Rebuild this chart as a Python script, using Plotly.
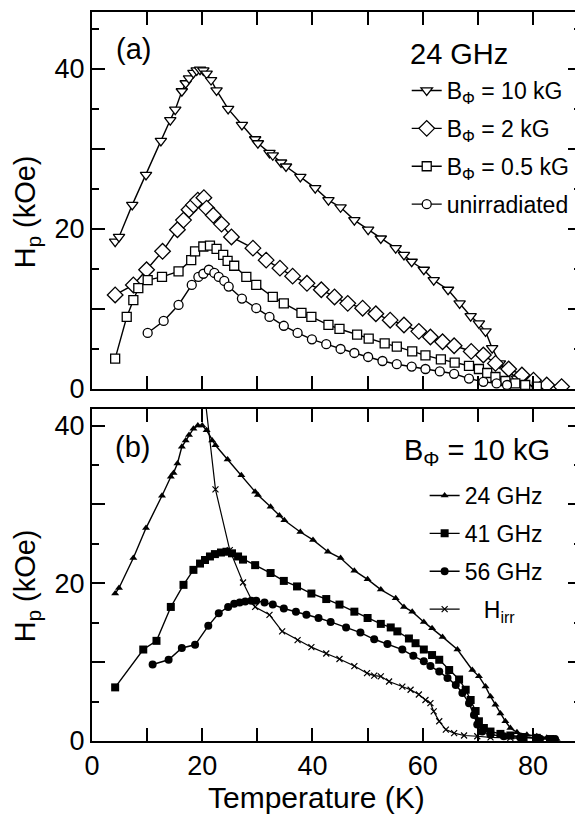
import plotly.graph_objects as go

# ---------------- data: panel (a), 24 GHz ----------------
t_10kG = [4.2, 4.9, 7.3, 9.8, 12.5, 14.2, 15.1, 16.3, 17.0, 17.6, 18.4, 19.0, 19.6, 20.2, 20.8, 21.6, 22.6,
          24.7, 27.2, 29.6, 30.1, 32.2, 32.8, 34.3, 35.2, 37.8, 40.5, 42.9, 45.1, 47.6, 50.1, 52.4, 55.1,
          56.6, 58.0, 60.2, 62.0, 64.6, 66.7, 68.7, 70.2, 71.4, 72.6, 74.0, 75.6, 77.1, 78.6, 80.4, 82.2]
h_10kG = [18.4, 19.0, 23.0, 26.75, 31.0, 33.6, 34.9, 37.2, 38.2, 38.8, 39.5, 39.8, 39.9, 39.8, 39.4, 38.6, 37.3,
          35.0, 33.0, 31.2, 30.7, 29.5, 29.2, 28.3, 27.8, 26.5, 25.1, 23.6, 22.7, 21.1, 19.9, 18.8, 17.6,
          16.75, 15.9, 14.9, 13.6, 12.4, 10.7, 9.1, 8.2, 7.2, 5.1, 3.2, 2.2, 1.3, 0.9, 0.5, 0.4]

t_2kG = [4.2, 7.5, 9.9, 12.8, 15.5, 16.6, 17.6, 18.4, 19.2, 20.3, 20.8, 22.0, 23.5, 25.3, 29.2, 31.6, 34.1,
         36.4, 39.0, 41.6, 44.0, 46.4, 49.1, 51.5, 54.1, 56.6, 59.3, 61.4, 63.6, 65.7, 68.8, 71.0, 73.2,
         75.6, 78.0, 80.1, 82.5, 85.2]
h_2kG = [11.75, 13.0, 14.9, 17.2, 19.9, 21.1, 22.4, 23.0, 23.6, 23.9, 22.6, 21.7, 20.6, 19.0, 17.6, 16.1, 15.1,
         14.1, 13.2, 12.4, 11.5, 10.7, 10.1, 9.4, 8.6, 8.0, 7.2, 6.5, 5.9, 5.4, 4.7, 4.25, 3.2,
         2.5, 1.75, 1.1, 0.5, 0.3]

t_05kG = [4.2, 6.3, 7.5, 8.4, 10.1, 12.7, 15.7, 18.0, 18.7, 20.2, 21.4, 22.6, 23.8, 24.6, 25.8, 28.0, 29.8,
          32.8, 34.8, 38.0, 39.8, 42.9, 44.9, 48.1, 50.2, 53.1, 55.3, 58.1, 60.5, 63.3, 65.8, 68.4, 70.2,
          71.7, 73.2, 75.0, 76.8, 78.6, 80.7]
h_05kG = [3.8, 9.0, 11.1, 12.6, 13.6, 14.0, 14.7, 16.1, 17.2, 17.8, 17.9, 17.5, 16.75, 16.0, 15.4, 14.0, 13.0,
          11.5, 10.7, 9.5, 9.0, 8.0, 7.5, 6.8, 6.3, 5.7, 5.3, 4.7, 4.2, 3.7, 3.3, 2.9, 2.5,
          2.0, 1.5, 1.0, 0.7, 0.5, 0.3]

t_unirr = [10.1, 13.0, 15.7, 18.1, 19.3, 20.2, 21.2, 22.2, 23.0, 24.0, 24.8, 27.2, 29.8, 32.2, 34.8, 37.3,
           39.9, 42.5, 45.1, 47.6, 50.1, 52.7, 55.3, 58.0, 60.5, 63.1, 65.7, 68.4, 71.0, 73.4, 75.3]
h_unirr = [7.0, 8.5, 10.5, 13.0, 14.0, 14.4, 14.9, 14.5, 14.0, 13.5, 12.8, 11.3, 10.1, 9.0, 7.9, 7.0,
           6.2, 5.6, 5.0, 4.5, 4.0, 3.5, 3.1, 2.8, 2.5, 2.2, 1.9, 1.3, 0.9, 0.7, 0.5]

# ---------------- data: panel (b), B_phi = 10 kG ----------------
t_24GHz = [4.2, 4.9, 7.5, 9.8, 12.7, 14.3, 14.8, 15.5, 16.3, 17.0, 17.6, 18.4, 19.2, 20.0, 20.8, 21.8, 22.4,
           24.6, 27.1, 29.6, 30.1, 32.4, 34.0, 34.9, 37.8, 40.1, 42.8, 45.1, 47.6, 50.0, 52.4, 55.1, 56.6,
           58.1, 60.2, 61.7, 63.6, 66.3, 69.0, 70.2, 71.4, 72.3, 73.2, 74.1, 75.0, 75.9, 77.1, 78.9, 80.7,
           82.5, 84.3]
h_24GHz = [18.7, 19.4, 23.2, 27.0, 31.1, 33.5, 34.0, 35.2, 37.3, 38.1, 38.8, 39.6, 40.0, 40.0, 39.4, 38.1, 37.5,
           35.7, 33.7, 31.6, 31.2, 29.7, 28.6, 28.0, 26.5, 25.5, 24.0, 23.2, 21.6, 20.5, 19.2, 18.1, 17.0,
           16.4, 15.1, 14.3, 13.2, 11.6, 9.0, 8.2, 6.9, 5.65, 4.6, 3.5, 2.5, 1.65, 1.1, 0.8, 0.6,
           0.4, 0.25]

t_41GHz = [4.2, 9.3, 11.7, 14.3, 16.6, 18.4, 19.6, 20.5, 21.4, 22.3, 23.4, 24.4, 25.4, 26.5, 27.4, 29.6, 32.4,
           34.8, 37.2, 39.8, 42.5, 44.9, 47.6, 50.0, 52.4, 54.2, 55.4, 57.5, 58.7, 60.2, 61.7, 63.0, 64.8,
           66.6, 67.8, 68.7, 69.6, 70.2, 71.1, 72.3, 74.1, 75.9, 78.3, 80.7, 83.1]
h_41GHz = [6.8, 11.6, 12.7, 17.0, 19.8, 21.7, 22.5, 22.95, 23.4, 23.7, 23.9, 24.0, 23.8, 23.4, 23.0, 22.3, 21.3,
           20.3, 19.6, 18.7, 18.0, 17.3, 16.4, 15.6, 14.85, 14.4, 13.9, 13.0, 12.4, 11.6, 10.9, 10.3, 9.0,
           7.8, 6.5, 5.2, 3.8, 2.5, 1.65, 1.2, 0.9, 0.7, 0.5, 0.4, 0.25]

t_56GHz = [11.0, 13.9, 16.3, 18.7, 21.1, 23.0, 24.7, 25.8, 26.8, 27.8, 28.9, 29.8, 31.3, 32.8, 34.8, 37.0,
           38.9, 41.1, 43.3, 46.1, 48.7, 51.2, 53.6, 56.3, 58.3, 60.2, 61.4, 63.0, 64.5, 66.0, 67.2, 68.4,
           69.3, 69.9, 70.8, 72.3, 74.7, 77.7, 81.3, 84.0]
h_56GHz = [9.7, 10.3, 11.8, 12.2, 14.6, 16.2, 17.0, 17.4, 17.55, 17.7, 17.8, 17.8, 17.55, 17.3, 16.8, 16.4,
           16.0, 15.6, 15.1, 14.4, 13.75, 12.9, 12.3, 11.6, 10.8, 10.1, 9.5, 8.8, 8.0, 7.1, 6.1, 4.8,
           3.3, 2.1, 1.2, 0.8, 0.6, 0.45, 0.3, 0.25]

t_irr = [20.1, 22.4, 25.0, 27.4, 29.6, 32.2, 34.5, 37.3, 39.8, 42.5, 44.9, 47.6, 49.9, 51.2, 52.4, 53.9,
         56.3, 57.8, 59.3, 60.5, 61.4, 62.0, 63.0, 64.2, 65.7, 67.5, 69.9, 72.3, 75.9, 78.3]
h_irr = [46.0, 31.9, 24.2, 20.1, 17.0, 16.0, 13.9, 12.8, 11.9, 11.1, 10.4, 9.5, 8.6, 8.3, 8.2, 7.55,
         6.9, 6.5, 5.9, 5.2, 4.8, 3.75, 2.5, 1.45, 1.0, 0.7, 0.6, 0.45, 0.4, 0.3]

x_major = [0, 20, 40, 60, 80]
x_minor = [10, 30, 50, 70]
y_ticks = [0, 10, 20, 30, 40]
y_ticktext = ["0", "", "20", "", "40"]
y_minor = [5, 15, 25, 35, 45]

# ---------------- figure ----------------
OFF = 8                      # page body margin of the html page
W, H = 583 - OFF, 815 - OFF
ML, MR, MT, MB = 92 - OFF, 0, 12 - OFF, 74
PW, PH = W - ML - MR, H - MT - MB
FONT = "Liberation Sans"


def px_x(px):
    """page pixel x -> paper fraction"""
    return (px - OFF - ML) / PW


def px_y(py):
    """page pixel y -> paper fraction"""
    return (H - MB - (py - OFF)) / PH


fig = go.Figure()

open_style = dict(color="white", line=dict(color="black", width=1.3))

top = [
    (t_10kG, h_10kG, "B<sub>Φ</sub> = 10 kG", "triangle-down", 10),
    (t_2kG, h_2kG, "B<sub>Φ</sub> = 2 kG", "diamond", 12),
    (t_05kG, h_05kG, "B<sub>Φ</sub> = 0.5 kG", "square", 9),
    (t_unirr, h_unirr, "unirradiated", "circle", 9),
]
for i, (tx, hy, name, sym, sz) in enumerate(top):
    fig.add_trace(go.Scatter(
        x=tx, y=hy, name=name, mode="lines+markers",
        line=dict(color="black", width=1.4),
        marker=dict(symbol=sym, size=sz, **open_style),
        xaxis="x", yaxis="y", legend="legend", legendgroup=f"a{i}",
    ))

bottom = [
    (t_24GHz, h_24GHz, "24 GHz", "triangle-up", 7),
    (t_41GHz, h_41GHz, "41 GHz", "square", 8),
    (t_56GHz, h_56GHz, "56 GHz", "circle", 8),
]
for i, (tx, hy, name, sym, sz) in enumerate(bottom):
    fig.add_trace(go.Scatter(
        x=tx, y=hy, name=name, mode="lines+markers",
        line=dict(color="black", width=1.4),
        marker=dict(symbol=sym, size=sz, color="black"),
        xaxis="x2", yaxis="y2", legend="legend2", legendgroup=f"b{i}",
    ))
fig.add_trace(go.Scatter(
    x=t_irr, y=h_irr, name="\u00a0\u00a0\u00a0H<sub>irr</sub>", mode="lines+markers",
    line=dict(color="black", width=1.2),
    marker=dict(symbol="x-thin", size=6, color="black", line=dict(color="black", width=1.2)),
    xaxis="x2", yaxis="y2", legend="legend2", legendgroup="b3",
))

axis_common = dict(
    showline=True, linecolor="black", linewidth=2, mirror="ticks",
    ticks="inside", tickcolor="black", tickwidth=1.5, ticklen=13,
    showgrid=False, zeroline=False,
    tickfont=dict(family=FONT, size=27, color="black"),
)
x_minor_style = dict(tickmode="array", tickvals=x_minor, ticklen=13, ticks="inside", tickcolor="black", tickwidth=1.5)

fig.update_layout(
    width=W, height=H,
    margin=dict(l=ML, r=MR, t=MT, b=MB),
    paper_bgcolor="white", plot_bgcolor="white",
    font=dict(family=FONT, color="black"),
    xaxis=dict(domain=[0, 1], range=[0, 88.72], anchor="y", tickmode="array", tickvals=x_major,
               showticklabels=False, minor=x_minor_style, **axis_common),
    yaxis=dict(domain=[px_y(389), 1.0], range=[0, 47.1], anchor="x", tickmode="array", tickvals=y_ticks,
               ticktext=y_ticktext,
               minor=dict(tickmode="array", tickvals=y_minor, ticklen=7, ticks="inside", tickcolor="black", tickwidth=1.5),
               **axis_common),
    xaxis2=dict(domain=[0, 1], range=[0, 88.72], anchor="y2", tickmode="array", tickvals=x_major,
                minor=x_minor_style, **axis_common),
    yaxis2=dict(domain=[0, px_y(409)], range=[0, 42.1], anchor="x2", tickmode="array", tickvals=y_ticks,
                ticktext=y_ticktext,
                minor=dict(tickmode="array", tickvals=y_minor[:-1], ticklen=7, ticks="inside", tickcolor="black", tickwidth=1.5),
                **axis_common),
    legend=dict(x=px_x(408), y=px_y(69), xanchor="left", yanchor="top", bgcolor="rgba(0,0,0,0)",
                font=dict(family=FONT, size=23, color="black"), tracegroupgap=5, itemsizing="trace"),
    legend2=dict(x=px_x(426), y=px_y(474), xanchor="left", yanchor="top", bgcolor="rgba(0,0,0,0)",
                 font=dict(family=FONT, size=23, color="black"), tracegroupgap=5, itemsizing="trace"),
    showlegend=True,
)

ann = dict(showarrow=False, font=dict(family=FONT, size=29, color="black"), xref="paper", yref="paper")
fig.add_annotation(text="(a)", x=px_x(114), y=px_y(49), xanchor="left", yanchor="middle", **ann)
fig.add_annotation(text="(b)", x=px_x(113), y=px_y(447), xanchor="left", yanchor="middle", **ann)
fig.add_annotation(text="24 GHz", x=px_x(409), y=px_y(54), xanchor="left", yanchor="middle", **ann)
fig.add_annotation(text="B<sub>Φ</sub> = 10 kG", x=px_x(403), y=px_y(452), xanchor="left", yanchor="middle", **ann)
fig.add_annotation(text="Temperature (K)", x=px_x(317), y=px_y(797), xanchor="center", yanchor="middle",
                   showarrow=False, font=dict(family=FONT, size=30, color="black"), xref="paper", yref="paper")
fig.add_annotation(text="H<sub>p</sub> (kOe)", x=px_x(27), y=px_y(212), xanchor="center", yanchor="middle",
                   textangle=-90, **ann)
fig.add_annotation(text="H<sub>p</sub> (kOe)", x=px_x(27), y=px_y(586), xanchor="center", yanchor="middle",
                   textangle=-90, **ann)

fig.write_html("out.html")
